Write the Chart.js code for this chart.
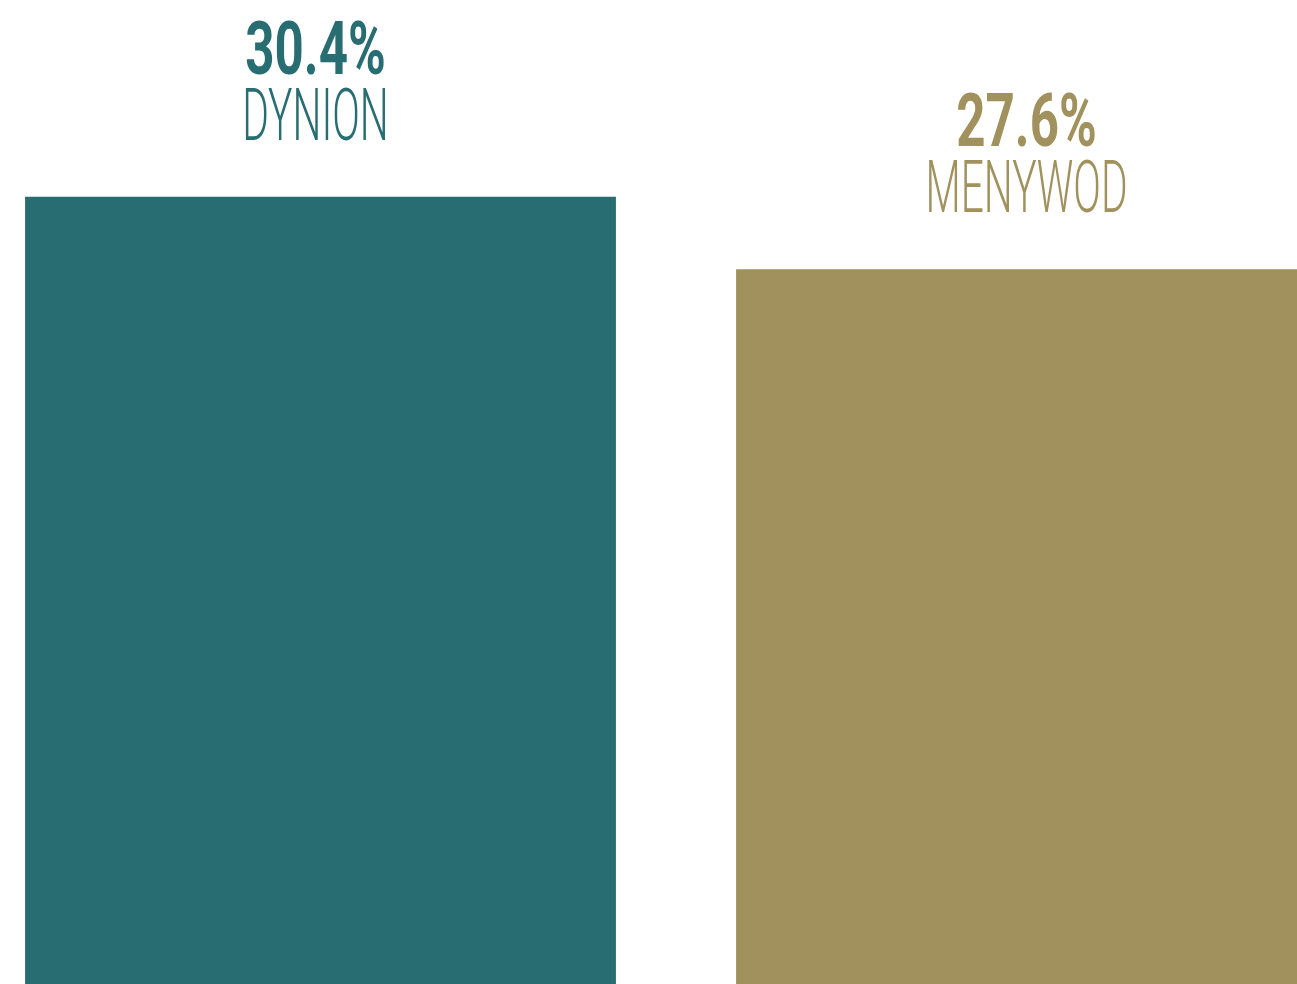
<!DOCTYPE html>
<html>
<head>
<meta charset="utf-8">
<script src="https://cdn.jsdelivr.net/npm/chart.js@4"></script>
<style>
  html, body { margin: 0; padding: 0; background: #fff; overflow: hidden; }
  #wrap { position: relative; width: 1297px; height: 984px; overflow: hidden; }
  #genderChart { position: absolute; left: -35px; top: 0; }
</style>
</head>
<body>
<div id="wrap"><canvas id="genderChart" width="1422" height="984"></canvas></div>
<script>
  const categories = ["DYNION", "MENYWOD"];
  const values = [30.4, 27.6];
  const barColors = ["#286D71", "#A0915D"];

  // labels above each bar: bold value + light category name, narrowed
  const topLabels = {
    id: 'topLabels',
    afterDatasetsDraw(chart) {
      const ctx = chart.ctx;
      const meta = chart.getDatasetMeta(0);
      meta.data.forEach((bar, i) => {
        const nameBase = bar.y - 57;
        const valueBase = nameBase - 66;
        ctx.save();
        ctx.fillStyle = barColors[i];
        ctx.textAlign = 'center';
        ctx.textBaseline = 'alphabetic';
        ctx.translate(bar.x - 5, 0);
        ctx.save();
        ctx.scale(0.69, 1);
        ctx.font = 'bold 74px Roboto';
        ctx.fillText(values[i].toFixed(1) + '%', 0, valueBase);
        ctx.restore();
        ctx.scale(0.565, 1);
        ctx.font = '300 72px Roboto';
        ctx.fillText(categories[i], 0, nameBase);
        ctx.restore();
      });
    }
  };

  new Chart(document.getElementById('genderChart').getContext('2d'), {
    type: 'bar',
    data: {
      labels: categories,
      datasets: [{
        data: values,
        backgroundColor: barColors,
        borderWidth: 0,
        barPercentage: 0.831,
        categoryPercentage: 1
      }]
    },
    options: {
      responsive: false,
      animation: false,
      layout: { padding: 0 },
      plugins: { legend: { display: false }, tooltip: { enabled: false } },
      scales: {
        x: { display: false },
        y: { display: false, min: 0, max: 38 }
      }
    },
    plugins: [topLabels]
  });
</script>
</body>
</html>
